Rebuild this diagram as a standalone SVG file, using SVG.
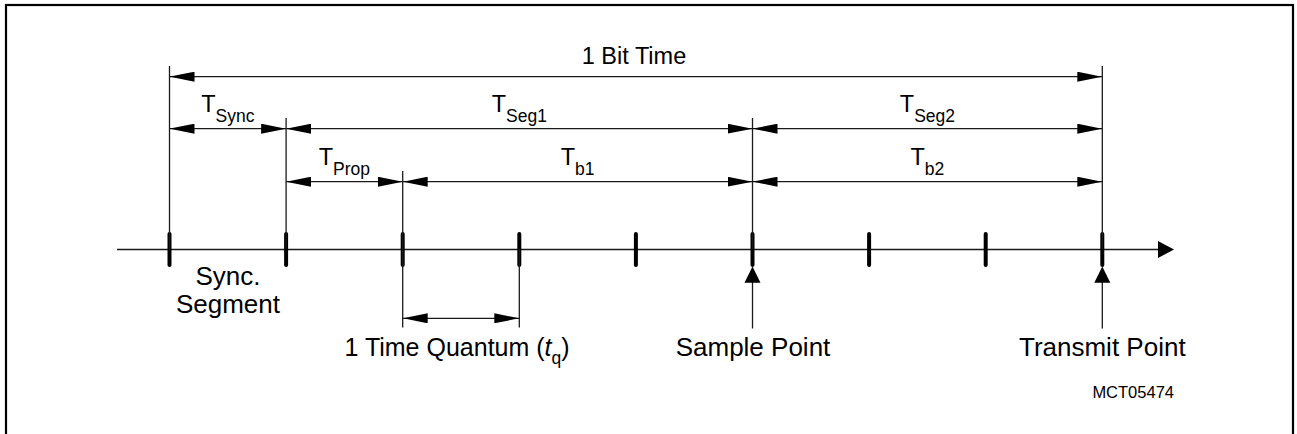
<svg xmlns="http://www.w3.org/2000/svg" width="1297" height="434" viewBox="0 0 1297 434">
<style>
  .ext { stroke:#1a1a1a; stroke-width:1.3; fill:none; }
  .dim { stroke:#1a1a1a; stroke-width:1.3; fill:none; marker-start:url(#ah); marker-end:url(#ah); }
  .tick { stroke:#000; stroke-width:4; stroke-linecap:round; }
  text { font-family:"Liberation Sans", Arial, Helvetica, sans-serif; fill:#000; }
  .lbl { font-size:23.5px; text-anchor:middle; }
  .sub { font-size:17.5px; }
  .big { font-size:26px; }
</style>
<defs>
  <marker id="ah" viewBox="0 0 25 10" refX="25" refY="5" markerWidth="25" markerHeight="10" markerUnits="userSpaceOnUse" orient="auto-start-reverse">
    <path d="M0,0 L25,5 L0,10 Z" fill="#000"/>
  </marker>
</defs>
<rect id="frame" x="6" y="5" width="1287" height="440" fill="#fff" stroke="#000" stroke-width="2.2"/>

<g id="axis">
  <line class="ext" x1="117" y1="249.5" x2="1160" y2="249.5" stroke-width="1.5"/>
  <path d="M1158,241 L1174,249.5 L1158,258 Z" fill="#000"/>
</g>

<g id="ticks">
  <line class="tick" x1="169.5" y1="234" x2="169.5" y2="265"/>
  <line class="tick" x1="286.1" y1="234" x2="286.1" y2="265"/>
  <line class="tick" x1="402.7" y1="234" x2="402.7" y2="265"/>
  <line class="tick" x1="519.3" y1="234" x2="519.3" y2="265"/>
  <line class="tick" x1="635.9" y1="234" x2="635.9" y2="265"/>
  <line class="tick" x1="752.5" y1="234" x2="752.5" y2="265"/>
  <line class="tick" x1="869.1" y1="234" x2="869.1" y2="265"/>
  <line class="tick" x1="985.7" y1="234" x2="985.7" y2="265"/>
  <line class="tick" x1="1102.3" y1="234" x2="1102.3" y2="265"/>
</g>

<g id="connectors">
  <!-- extension lines -->
  <line class="ext" x1="169.5" y1="66" x2="169.5" y2="249"/>
  <line class="ext" x1="286.1" y1="118" x2="286.1" y2="249"/>
  <line class="ext" x1="402.7" y1="171" x2="402.7" y2="327.5"/>
  <line class="ext" x1="519.3" y1="249" x2="519.3" y2="327.5"/>
  <line class="ext" x1="752.5" y1="118" x2="752.5" y2="249"/>
  <line class="ext" x1="1102.3" y1="66" x2="1102.3" y2="249"/>
  <!-- dimension lines -->
  <line id="bit-time" class="dim" x1="169.5" y1="76.7" x2="1102.3" y2="76.7"/>
  <line id="tsync" class="dim" x1="169.5" y1="128.7" x2="286.1" y2="128.7"/>
  <line id="tseg1" class="dim" x1="286.1" y1="128.7" x2="752.5" y2="128.7"/>
  <line id="tseg2" class="dim" x1="752.5" y1="128.7" x2="1102.3" y2="128.7"/>
  <line id="tprop" class="dim" x1="286.1" y1="181.7" x2="402.7" y2="181.7"/>
  <line id="tb1" class="dim" x1="402.7" y1="181.7" x2="752.5" y2="181.7"/>
  <line id="tb2" class="dim" x1="752.5" y1="181.7" x2="1102.3" y2="181.7"/>
  <line id="tq" class="dim" x1="402.7" y1="318.3" x2="519.3" y2="318.3"/>
  <!-- pointer arrows -->
  <line class="ext" x1="752.5" y1="280" x2="752.5" y2="328.5"/>
  <path d="M752.5,266.5 L760.5,282.7 L744.5,282.7 Z" fill="#000"/>
  <line class="ext" x1="1102.3" y1="280" x2="1102.3" y2="328.5"/>
  <path d="M1102.3,266.5 L1110.3,282.7 L1094.3,282.7 Z" fill="#000"/>
</g>

<g id="label-bit-time"><text class="lbl" x="634" y="63.5" font-size="25">1 Bit Time</text></g>
<g id="label-tsync"><text class="lbl" x="227.8" y="111.7">T<tspan class="sub" dy="10">Sync</tspan></text></g>
<g id="label-tseg1"><text class="lbl" x="519.3" y="111.7">T<tspan class="sub" dy="10">Seg1</tspan></text></g>
<g id="label-tseg2"><text class="lbl" x="927.4" y="111.7">T<tspan class="sub" dy="10">Seg2</tspan></text></g>
<g id="label-tprop"><text class="lbl" x="344.4" y="164.7">T<tspan class="sub" dy="10">Prop</tspan></text></g>
<g id="label-tb1"><text class="lbl" x="577.6" y="164.7">T<tspan class="sub" dy="10">b1</tspan></text></g>
<g id="label-tb2"><text class="lbl" x="927.4" y="164.7">T<tspan class="sub" dy="10">b2</tspan></text></g>

<g id="label-sync-segment">
  <text class="big" x="228" y="284.5" text-anchor="middle" font-size="25.5">Sync.</text>
  <text class="big" x="228" y="312.7" text-anchor="middle" font-size="25.5">Segment</text>
</g>
<g id="label-quantum"><text x="344.5" y="355.5" font-size="25">1 Time Quantum (<tspan font-style="italic">t</tspan><tspan class="sub" dy="8">q</tspan><tspan dy="-8">)</tspan></text></g>
<g id="label-sample"><text class="big" x="753" y="356" text-anchor="middle">Sample Point</text></g>
<g id="label-transmit"><text class="big" x="1102.3" y="356" text-anchor="middle">Transmit Point</text></g>
<g id="label-id"><text x="1174" y="397.5" font-size="16.5" text-anchor="end">MCT05474</text></g>
</svg>
